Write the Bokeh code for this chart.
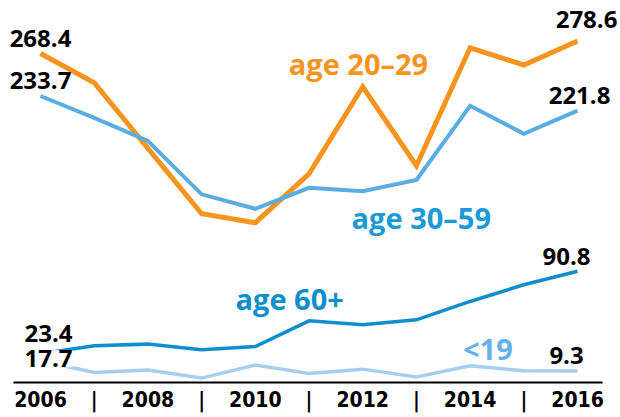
from bokeh.plotting import figure
from bokeh.models import Range1d, FixedTicker, Label
from bokeh.embed import file_html
from bokeh.resources import INLINE

# ---- data ----
years = list(range(2006, 2017))
age_20_29 = [268.4, 244.5, 191.0, 137.6, 130.3, 170.2, 241.2, 176.8, 273.0, 259.0, 278.6]
age_30_59 = [233.7, 215.9, 197.0, 153.5, 141.7, 158.8, 156.0, 165.3, 225.7, 202.9, 221.8]
age_60_plus = [23.4, 29.9, 31.3, 26.7, 29.4, 50.3, 47.1, 51.1, 66.1, 79.7, 90.8]
under_19 = [17.7, 8.2, 10.1, 3.6, 14.2, 7.3, 10.9, 4.6, 13.6, 9.5, 9.3]
tick_labels = ["2006", "|", "2008", "|", "2010", "|", "2012", "|", "2014", "|", "2016"]
series_names = ["age 20\u201329", "age 30\u201359", "age 60+", "<19"]
# where each series name sits (data coords, centre of text)
name_pos = [(2011.92, 260.5), (2013.09, 134.2), (2010.64, 68.7), (2014.33, 27.4)]

# ---- styles ----
line_colors = ["#F7941E", "#5AADE2", "#0E8ECF", "#A6CFEF"]
name_colors = ["#F7941E", "#1A9AD6", "#0E8ECF", "#66B2E6"]
line_widths = [5, 4, 3.5, 3.5]
# (x_offset, y_offset) of start / end value labels, pixels (up = positive)
start_off = [(0, 15), (0, 15.5), (8, 20.5), (8, 2)]
end_off = [(9, 21), (2, 15.5), (-11, 15), (-11, 15.5)]
start_bg = [None, None, "white", "white"]

NUM_FONT = "Open Sans"
TICK_FONT = "'DejaVu Sans Condensed', sans-serif"

PX_PER_UNIT = 1.226
AXIS_PANEL = 35
FRAME_H = 417 - AXIS_PANEL
Y_END = FRAME_H / PX_PER_UNIT

p = figure(width=620, height=417,
           x_range=Range1d(2005.255, 2016.80), y_range=Range1d(0, Y_END),
           output_backend="svg", toolbar_location=None,
           min_border_left=0, min_border_right=0, min_border_top=0,
           min_border_bottom=AXIS_PANEL)
p.outline_line_color = None
p.xgrid.visible = False
p.ygrid.visible = False
p.yaxis.visible = False
p.background_fill_color = "white"
p.border_fill_color = "white"

ax = p.xaxis[0]
ax.ticker = FixedTicker(ticks=years)
ax.bounds = (2005.497, 2016.466)
ax.major_label_overrides = {y: t for y, t in zip(years, tick_labels)}
ax.major_tick_line_color = None
ax.major_tick_out = 0
ax.major_tick_in = 0
ax.minor_tick_line_color = None
ax.minor_tick_out = 0
ax.minor_tick_in = 0
ax.axis_line_width = 2
ax.axis_line_color = "black"
ax.major_label_text_font = TICK_FONT
ax.major_label_text_font_style = "bold"
ax.major_label_text_font_size = "21px"
ax.major_label_text_color = "black"
ax.major_label_text_align = "center"
ax.major_label_standoff = 5

all_series = [age_20_29, age_30_59, age_60_plus, under_19]
for vals, col, lw in zip(all_series, line_colors, line_widths):
    p.line(years, vals, line_color=col, line_width=lw, line_join="miter")

for i, vals in enumerate(all_series):
    for (xi, yi, off, bg) in [(years[0], vals[0], start_off[i], start_bg[i]),
                              (years[-1], vals[-1], end_off[i], None)]:
        lab = Label(x=xi, y=yi, text=f"{yi:.1f}", x_offset=off[0], y_offset=off[1],
                    text_align="center", text_baseline="middle",
                    text_font=NUM_FONT, text_font_style="bold", text_font_size="24px",
                    text_color="black")
        if bg:
            lab.background_fill_color = bg
            lab.padding = 0
        p.add_layout(lab)

for name, (nx, ny), col in zip(series_names, name_pos, name_colors):
    p.add_layout(Label(x=nx, y=ny, text=name, text_align="center", text_baseline="middle",
                       text_font=NUM_FONT, text_font_style="bold", text_font_size="29px",
                       text_color=col))

open("out.html", "w").write(file_html(p, INLINE))
